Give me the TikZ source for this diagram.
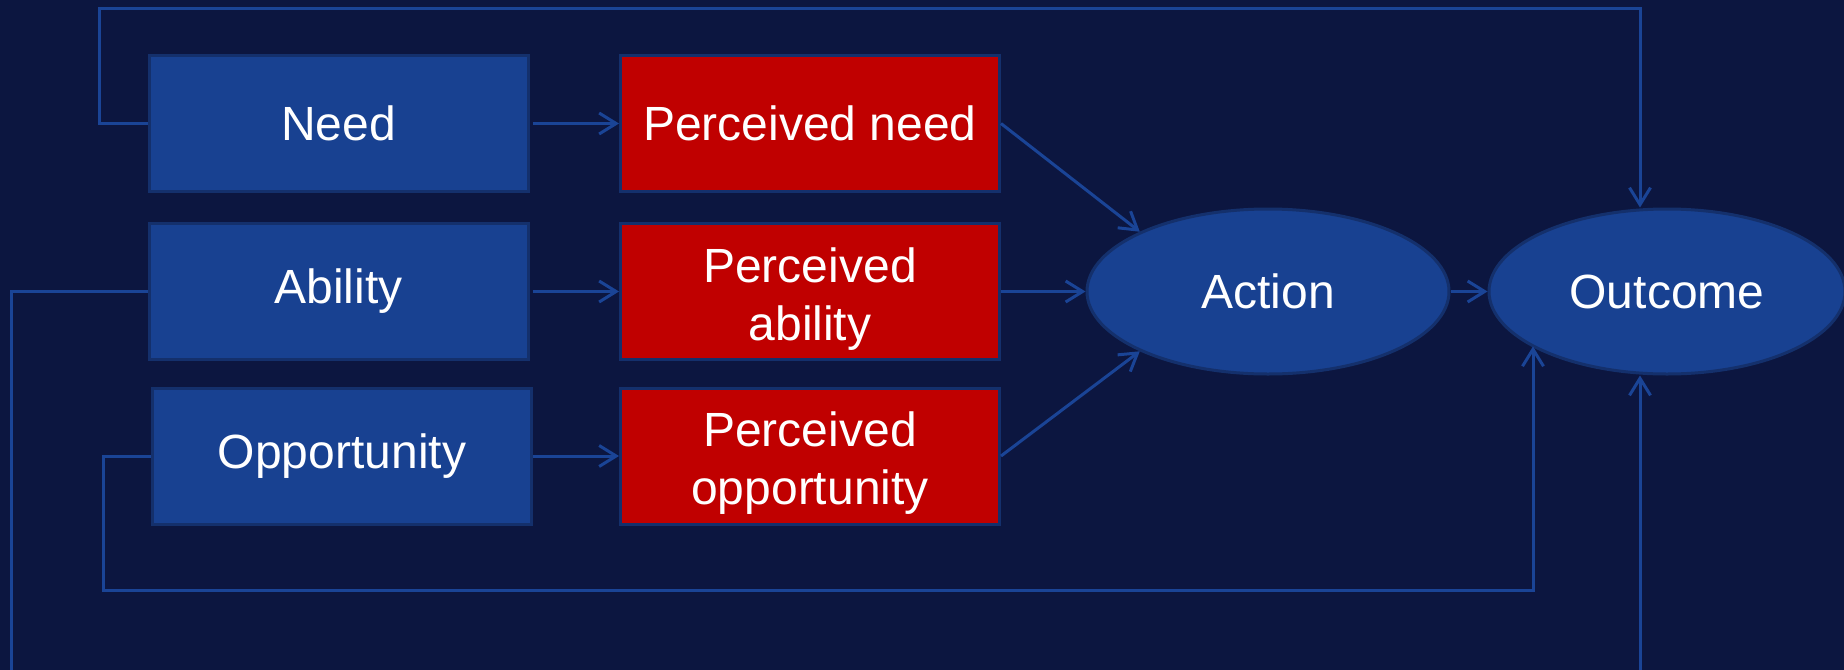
\documentclass[tikz,border=0pt]{standalone}
\usepackage{fontspec}
\setmainfont{Liberation Sans}
\usetikzlibrary{arrows.meta,shapes.geometric}
\definecolor{navybg}{RGB}{12,22,64}
\definecolor{boxblue}{RGB}{24,65,145}
\definecolor{boxedge}{RGB}{20,48,108}
\definecolor{boxred}{RGB}{192,0,0}
\definecolor{linkblue}{RGB}{26,68,150}
\begin{document}
\begin{tikzpicture}[x=0.5pt,y=-0.5pt,
    font=\fontsize{24}{29}\selectfont,
    >={Straight Barb[length=8.5pt,width=10.5pt]}]

        \path[use as bounding box,fill=navybg] (0,0) rectangle (1844,670);
        \clip (0,0) rectangle (1844,670);

        \begin{scope}[every node/.style={rectangle,draw=boxedge,line width=1.5pt,
            text=white,align=center,minimum width=189.5pt,minimum height=68pt}]
          \node[fill=boxblue] (need)  at (338.5,123.5) {Need};
          \node[fill=boxblue] (ability)  at (338.5,291.5) {Ability};
          \node[fill=boxblue] (opp)  at (342,456) {Opportunity};
          \node[fill=boxred] (pneed)  at (810,123.5) {Perceived need};
          \node[fill=boxred,text height=53.5pt] (pability)  at (810,291.5) {Perceived\\ability};
          \node[fill=boxred,text height=53.5pt] (popp)  at (810,456) {Perceived\\opportunity};
        \end{scope}

        \begin{scope}[every node/.style={ellipse,draw=boxedge,line width=1.5pt,
            fill=boxblue,text=white,minimum height=82.5pt}]
          \node[minimum width=181pt] (action)  at (1268,291.5) {Action};
          \node[minimum width=178pt] (outcome)  at (1667,291.5) {Outcome};
        \end{scope}

        \coordinate (topr) at (1640,8);
        \coordinate (botl) at (11,720);
        \coordinate (botr) at (1640,720);
        \coordinate (botm) at (1533,590);

        \begin{scope}[linkblue,line width=1.5pt]

          \begin{scope}[every edge/.style={draw,->}]
            \path (need)  edge[shorten <=1.5pt] (pneed);
            \path (ability)  edge[shorten <=1.5pt] (pability);
            \path (opp.east)  edge (popp.west |- opp.east);
            \path (pneed.east)  edge (action.155);
            \path (pability)  edge (action);
            \path (popp.east)  edge (action.205);
            \path (action)  edge (outcome);
          \end{scope}

          \draw[->] (need.west) -- ++(-48,0) |- (topr) -- (topr |- outcome.north);
          \draw[->] (ability.west) -| (botl) -- (botr) -- (botr |- outcome.south);
          \draw[->] (opp.west) -- ++(-48,0) |- (botm) -- (botm |- outcome.202);
        \end{scope}

      \end{tikzpicture}
\end{document}
